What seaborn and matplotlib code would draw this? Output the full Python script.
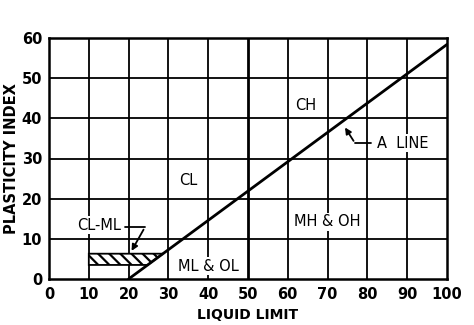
import matplotlib
matplotlib.use("Agg")
import matplotlib.pyplot as plt
import seaborn as sns
import numpy as np
import pandas as pd
from matplotlib.patches import Polygon

sns.set_theme(style="white")
plt.rcParams['font.family'] = ['DejaVu Sans']
plt.rcParams['text.color'] = 'black'
plt.rcParams['axes.labelcolor'] = 'black'
plt.rcParams['xtick.color'] = 'black'
plt.rcParams['ytick.color'] = 'black'
plt.rcParams['hatch.linewidth'] = 1.6

# Data
a_line_ll = [20, 100]
a_line_pi = [0, 58.4]          # A line: PI = 0.73 (LL - 20)
x_ticks = [0, 10, 20, 30, 40, 50, 60, 70, 80, 90, 100]
y_ticks = [0, 10, 20, 30, 40, 50, 60]
clml_low, clml_high = 3.5, 6.3
zones = ["CL", "CH", "MH & OH", "ML & OL", "CL-ML", "A  LINE"]
zone_ll = [35, 64.5, 70, 40, 12.5, 89]
zone_pi = [24.5, 43.3, 14.2, 3.2, 13.4, 33.8]

fig = plt.figure(figsize=(4.74, 3.25), dpi=100)
ax = fig.add_axes([49/474, 46/325, 398/474, 241/325])

df = pd.DataFrame({"LL": a_line_ll, "PI": a_line_pi})
sns.lineplot(data=df, x="LL", y="PI", ax=ax, color="black", lw=2.0, zorder=4)

ax.set_xlim(0, 100)
ax.set_ylim(0, 60)
ax.set_xticks(x_ticks)
ax.set_yticks(y_ticks)
ax.tick_params(axis="x", length=0, pad=6, labelsize=10.5)
ax.tick_params(axis="y", length=0, pad=5, labelsize=10.5)
for lab in ax.get_xticklabels() + ax.get_yticklabels():
    lab.set_fontweight("bold")
for v in x_ticks[1:-1]:
    ax.axvline(v, color="black", lw=2.0 if v == 50 else 1.3, zorder=1)
for v in y_ticks[1:-1]:
    ax.axhline(v, color="black", lw=1.3, zorder=1)
for s in ax.spines.values():
    s.set_color("black")
    s.set_linewidth(1.8)

# CL-ML hatched band bounded by A line
x_lo = 20 + clml_low / 0.73
x_hi = 20 + clml_high / 0.73
poly = Polygon([(10, clml_low), (x_lo, clml_low), (x_hi, clml_high), (10, clml_high)],
               closed=True, facecolor="white", edgecolor="black", hatch="\\\\\\", lw=1.3, zorder=3)
ax.add_patch(poly)

ax.set_xlabel("LIQUID LIMIT", fontsize=10, fontweight="bold", labelpad=4)
ax.set_ylabel("PLASTICITY INDEX", fontsize=10.5, fontweight="bold", labelpad=2)

for name, xx, yy in zip(zones, zone_ll, zone_pi):
    ax.text(xx, yy, name, ha="center", va="center", fontsize=10.5, zorder=5,
            bbox=dict(facecolor="white", edgecolor="none", pad=1.0))

# arrows
ax.annotate("", xy=(20.4, 6.4), xytext=(24.1, 12.9),
            arrowprops=dict(arrowstyle="-|>", color="black", lw=1.3, mutation_scale=9), zorder=6)
ax.plot([19.2, 24.1], [12.9, 12.9], color="black", lw=1.3, zorder=6)
ax.annotate("", xy=(74.0, 38.3), xytext=(76.9, 33.8),
            arrowprops=dict(arrowstyle="-|>", color="black", lw=1.3, mutation_scale=9), zorder=6)
ax.plot([76.9, 81.0], [33.8, 33.8], color="black", lw=1.3, zorder=6)

fig.savefig("out.png", dpi=100)
